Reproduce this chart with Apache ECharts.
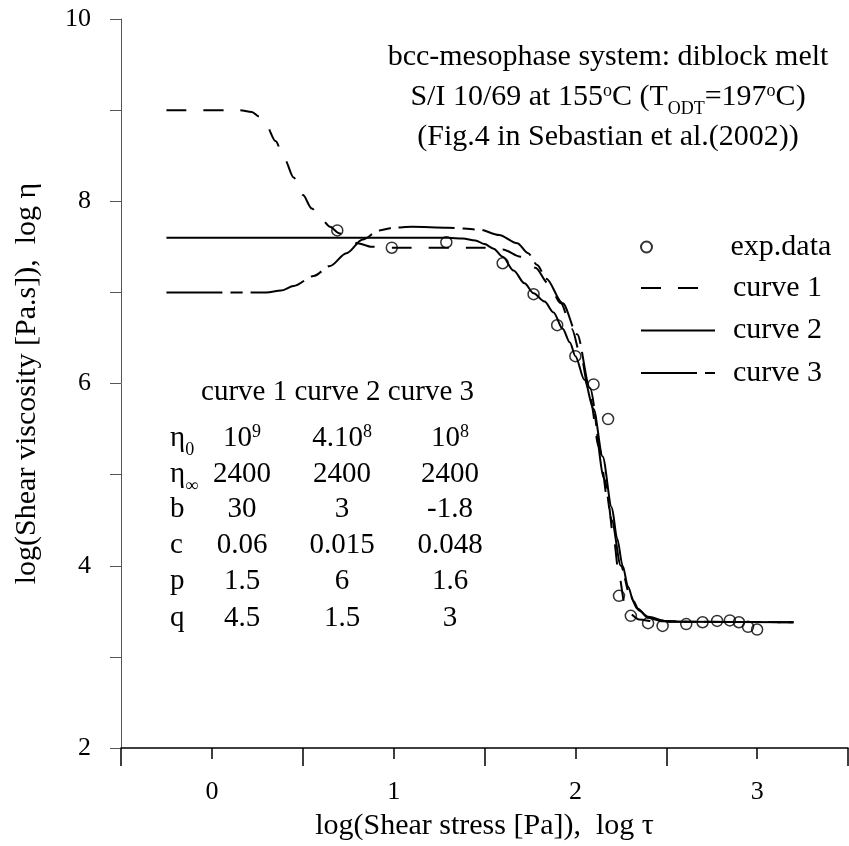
<!DOCTYPE html>
<html><head><meta charset="utf-8">
<script src="https://cdn.jsdelivr.net/npm/echarts@6/dist/echarts.min.js"></script>
<style>html,body{margin:0;padding:0;background:#fff}#c{width:849px;height:846px}</style>
</head><body><div id="c"></div>
<script>
// ---- data ----
const xTickLabels = [0, 1, 2, 3];
const yTickLabels = [2, 4, 6, 8, 10];

const expData = [[0.69,7.68],[0.99,7.49],[1.29,7.55],[1.60,7.32],[1.77,6.98],[1.90,6.64],[2.00,6.30],[2.10,5.99],[2.18,5.61],[2.24,3.67],[2.305,3.45],[2.40,3.37],[2.48,3.34],[2.61,3.36],[2.70,3.38],[2.78,3.395],[2.85,3.40],[2.90,3.38],[2.95,3.33],[3.00,3.30]];

const curve1 = [[-0.25,9.0],[0.15,9.0],[0.22,8.98],[0.26,8.93],[0.30,8.83],[0.35,8.66],[0.40,8.46],[0.45,8.26],[0.50,8.07],[0.55,7.92],[0.60,7.81],[0.65,7.72],[0.70,7.65],[0.75,7.59],[0.80,7.54],[0.88,7.50],[1.0,7.49],[1.5,7.49],[1.6,7.47],[1.7,7.39],[1.78,7.27],[1.85,7.1],[1.92,6.88],[1.98,6.6],[2.03,6.3],[2.08,5.85],[2.13,5.3],[2.18,4.7],[2.21,4.3],[2.24,3.9],[2.27,3.6],[2.3,3.47],[2.35,3.41],[2.45,3.385],[3.2,3.38]];

const curve2 = [[-0.25,7.6],[1.3,7.6],[1.38,7.59],[1.45,7.57],[1.5,7.53],[1.55,7.48],[1.6,7.39],[1.66,7.24],[1.72,7.1],[1.77,6.99],[1.83,6.9],[1.88,6.78],[1.93,6.6],[1.97,6.45],[2.0,6.3],[2.05,6.04],[2.1,5.72],[2.15,5.2],[2.2,4.64],[2.23,4.3],[2.26,4.0],[2.29,3.77],[2.32,3.61],[2.35,3.51],[2.4,3.43],[2.48,3.39],[2.6,3.385],[3.2,3.38]];

const curve3 = [[-0.25,7.0],[0.3,7.0],[0.38,7.02],[0.45,7.07],[0.56,7.18],[0.65,7.29],[0.74,7.43],[0.83,7.58],[0.92,7.68],[1.0,7.71],[1.1,7.72],[1.3,7.71],[1.47,7.69],[1.58,7.63],[1.68,7.54],[1.74,7.43],[1.79,7.3],[1.84,7.15],[1.93,6.88],[2.01,6.54],[2.08,5.95],[2.16,4.95],[2.2,4.5],[2.25,4.0],[2.3,3.68],[2.34,3.53],[2.4,3.44],[2.5,3.395],[2.6,3.385],[3.2,3.38]];

const titleLines = ['bcc-mesophase system: diblock melt', 'S/I 10/69 at 155{sup|o}C (T{sub|ODT}=197{sup|o}C)', '(Fig.4 in Sebastian et al.(2002))'];
const tableHeader = 'curve 1 curve 2 curve 3';
const paramNames = ['η{sub|0}', 'η{sub|∞}', 'b', 'c', 'p', 'q'];
const col1 = ['10{sup|9}', '2400', '30', '0.06', '1.5', '4.5'];
const col2 = ['4.10{sup|8}', '2400', '3', '0.015', '6', '1.5'];
const col3 = ['10{sup|8}', '2400', '-1.8', '0.048', '1.6', '3'];

// ---- chart ----
const FONT = 'Liberation Serif';
const chart = echarts.init(document.getElementById('c'));
const rich = {
  sup: {fontFamily: FONT, fontSize: 18, verticalAlign: 'top', lineHeight: 30},
  sub: {fontFamily: FONT, fontSize: 18, verticalAlign: 'bottom', lineHeight: 30, padding: [0,0,-6,0]}
};
function txt(text, x, y, size, align) {
  return {type: 'text', x: x, y: y, z: 10, style: {text: text, fill: '#000', font: size + 'px "' + FONT + '"', align: align || 'left', verticalAlign: 'middle', rich: rich}};
}
const graphics = [];
titleLines.forEach((t, i) => graphics.push(txt(t, 608, 57 + i * 40, 30, 'center')));
const headerY = 392;
const rowYs = [438, 474, 509, 545, 581, 618];
graphics.push(txt(tableHeader, 474, headerY, 29, 'right'));
paramNames.forEach((t, i) => {
  const y = rowYs[i];
  graphics.push(txt(t, 170, y, 29, 'left'));
  graphics.push(txt(col1[i], 242, y, 29, 'center'));
  graphics.push(txt(col2[i], 342, y, 29, 'center'));
  graphics.push(txt(col3[i], 450, y, 29, 'center'));
});

const lineCommon = {type: 'line', symbol: 'none', smooth: 0.3, smoothMonotone: 'x', z: 3};
chart.setOption({
  animation: false,
  backgroundColor: '#fff',
  grid: {left: 121, right: 1, top: 19, bottom: 97, containLabel: false},
  xAxis: {
    type: 'value', min: -0.5, max: 3.5, interval: 1,
    name: 'log(Shear stress [Pa]),  log τ', nameLocation: 'middle', nameGap: 63,
    nameTextStyle: {fontFamily: FONT, fontSize: 30, color: '#000'},
    axisLine: {show: true, onZero: false, lineStyle: {color: '#000', width: 1.5}},
    axisTick: {show: true, length: 18, lineStyle: {color: '#000', width: 1.5}},
    minorTick: {show: true, splitNumber: 2, length: 11, lineStyle: {color: '#000', width: 1.5}},
    splitLine: {show: false}, minorSplitLine: {show: false},
    axisLabel: {customValues: xTickLabels, margin: 31, fontFamily: FONT, fontSize: 26, color: '#000'}
  },
  yAxis: {
    type: 'value', min: 2, max: 10, interval: 1,
    name: 'log(Shear viscosity [Pa.s]),  log η', nameLocation: 'middle', nameGap: 79,
    nameTextStyle: {fontFamily: FONT, fontSize: 30, color: '#000'},
    axisLine: {show: true, onZero: false, lineStyle: {color: '#555', width: 1}},
    axisTick: {show: true, length: 11, lineStyle: {color: '#555', width: 1}},
    splitLine: {show: false},
    axisLabel: {customValues: yTickLabels, margin: 30, fontFamily: FONT, fontSize: 26, color: '#000'}
  },
  legend: [
    {data: ['exp.data'], orient: 'vertical', left: 635, top: 227, itemWidth: 30, itemHeight: 11,
     textStyle: {fontFamily: FONT, fontSize: 30, color: '#000', padding: [0,0,0,64]}},
    {data: ['curve 1', 'curve 2', 'curve 3'], orient: 'vertical', left: 635, top: 268, itemWidth: 74, itemHeight: 11, itemGap: 12.5,
     itemStyle: {color: 'rgba(0,0,0,0)', borderColor: 'rgba(0,0,0,0)', borderWidth: 0},
     textStyle: {fontFamily: FONT, fontSize: 30, color: '#000', padding: [0,0,0,13]}}
  ],
  graphic: graphics,
  series: [
    Object.assign({}, lineCommon, {name: 'curve 1', data: curve1, lineStyle: {color: '#000', width: 2, type: [20, 17]}, itemStyle: {color: '#000'}}),
    Object.assign({}, lineCommon, {name: 'curve 2', data: curve2, lineStyle: {color: '#000', width: 2, type: 'solid'}, itemStyle: {color: '#000'}}),
    Object.assign({}, lineCommon, {name: 'curve 3', data: curve3, lineStyle: {color: '#000', width: 2, type: [56, 8, 12, 8]}, itemStyle: {color: '#000'}}),
    {type: 'scatter', name: 'exp.data', data: expData, symbol: 'circle', symbolSize: 11, z: 4,
     itemStyle: {color: 'rgba(0,0,0,0)', borderColor: '#000', borderWidth: 1.5}}
  ]
});
</script>
</body></html>
